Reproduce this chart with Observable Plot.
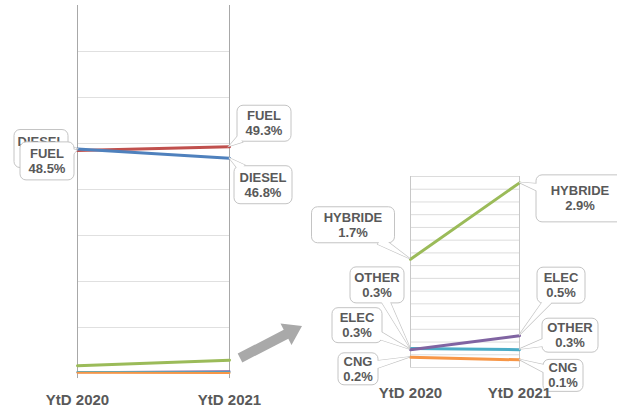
<!DOCTYPE html>
<html><head><meta charset="utf-8">
<script src="https://cdn.jsdelivr.net/npm/d3@7"></script>
<script src="https://cdn.jsdelivr.net/npm/@observablehq/plot@0.6"></script>
<style>
html,body{margin:0;padding:0;background:#fff;}
#chart{position:relative;width:617px;height:411px;overflow:hidden;}
#chart svg{position:absolute;left:0;top:0;overflow:hidden;}
</style></head><body><div id="chart"></div>
<script>
// ---- data ----
const periods = ["YtD 2020", "YtD 2021"];
const energies = ["FUEL", "DIESEL", "HYBRIDE", "ELEC", "OTHER", "CNG"];
const share2020 = [48.5, 48.8, 1.7, 0.28, 0.30, 0.16];
const share2021 = [49.3, 46.8, 2.9, 0.50, 0.28, 0.12];
const zoomEnergies = ["HYBRIDE", "ELEC", "OTHER", "CNG"];
const leftGrid = [10, 20, 30, 40, 50, 60, 70];
const rightGrid = [0, 0.2, 0.4, 0.6, 0.8, 1.0, 1.2, 1.4, 1.6, 1.8, 2.0, 2.2, 2.4, 2.6, 2.8, 3.0];

// ---- styles ----
const colors = ["#c0504d", "#4f81bd", "#9bbb59", "#8064a2", "#4bacc6", "#f79646"];
const textColor = "#595959";
const font = "'Liberation Sans', Arial, sans-serif";

const rows = energies.flatMap((e, i) => [
  {energy: e, period: periods[0], share: share2020[i]},
  {energy: e, period: periods[1], share: share2021[i]}
]);
const smallOrder = ["ELEC", "OTHER", "CNG"];
const bigOrder = ["HYBRIDE", "FUEL", "DIESEL"];
const smallRows = smallOrder.flatMap(e => rows.filter(r => r.energy === e));
const bigRows = bigOrder.flatMap(e => rows.filter(r => r.energy === e));

// callout layout: offsets of box centre from the data point, box size
const leftCallouts = [
  {energy: "DIESEL", period: periods[0], dx: -36, dy: 0, w: 54, h: 38},
  {energy: "FUEL", period: periods[0], dx: -30, dy: 11, w: 54, h: 38},
  {energy: "FUEL", period: periods[1], dx: 35, dy: -23, w: 54, h: 36},
  {energy: "DIESEL", period: periods[1], dx: 34, dy: 27, w: 58, h: 38}
];
const rightCallouts = [
  {energy: "HYBRIDE", period: periods[0], dx: -57, dy: -34, w: 83, h: 36},
  {energy: "OTHER", period: periods[0], dx: -33, dy: -63, w: 54, h: 36},
  {energy: "ELEC", period: periods[0], dx: -53, dy: -24, w: 50, h: 35},
  {energy: "CNG", period: periods[0], dx: -52, dy: 12, w: 40, h: 32},
  {energy: "HYBRIDE", period: periods[1], dx: 61, dy: 16, w: 88, h: 47},
  {energy: "ELEC", period: periods[1], dx: 42, dy: -50, w: 48, h: 36},
  {energy: "OTHER", period: periods[1], dx: 51, dy: -14, w: 56, h: 34},
  {energy: "CNG", period: periods[1], dx: 44, dy: 16, w: 40, h: 32}
];

function valueOf(energy, period) {
  const i = energies.indexOf(energy);
  return (period === periods[0] ? share2020 : share2021)[i];
}

function callouts(specs) {
  return (index, scales) => {
    const g = d3.create("svg:g");
    for (const s of specs) {
      const v = valueOf(s.energy, s.period);
      const ax = scales.x(s.period), ay = scales.y(v);
      const cx = ax + s.dx, cy = ay + s.dy;
      const ddx = ax - cx, ddy = ay - cy;
      const len = Math.hypot(ddx, ddy);
      const ux = ddx / len, uy = ddy / len;
      const t = Math.min(Math.abs(ddx) > 0 ? (s.w / 2) / Math.abs(ddx) : Infinity,
                         Math.abs(ddy) > 0 ? (s.h / 2) / Math.abs(ddy) : Infinity);
      const ex = cx + t * ddx - 4 * ux, ey = cy + t * ddy - 4 * uy;
      const px = -uy, py = ux, hw = 4;
      const tail = `M${ex + hw * px},${ey + hw * py}L${ax},${ay}L${ex - hw * px},${ey - hw * py}Z`;
      g.append("path").attr("d", tail).attr("fill", "#fff").attr("stroke", "#c4c4c4").attr("stroke-width", 1.3);
      g.append("rect").attr("x", cx - s.w / 2).attr("y", cy - s.h / 2)
        .attr("width", s.w).attr("height", s.h).attr("rx", 6)
        .attr("fill", "#fff").attr("stroke", "#c4c4c4");
      g.append("path").attr("d", tail).attr("fill", "#fff");
      const txt = g.append("text").attr("text-anchor", "middle")
        .attr("font-family", font).attr("font-weight", "bold").attr("font-size", 13)
        .attr("fill", textColor);
      txt.append("tspan").attr("x", cx).attr("y", cy - 7.5).attr("dy", "0.35em").text(s.energy);
      txt.append("tspan").attr("x", cx).attr("y", cy + 7.5).attr("dy", "0.35em").text(v.toFixed(1) + "%");
    }
    return g.node();
  };
}

const axisText = {fontFamily: font, fontWeight: "bold", fontSize: 15, fill: textColor, lineAnchor: "middle"};

const left = Plot.plot({
  width: 617, height: 411,
  marginLeft: 77, marginRight: 388, marginTop: 5, marginBottom: 38,
  x: {type: "point", domain: periods, range: [77, 229], padding: 0, axis: null},
  y: {domain: [0, 80], axis: null},
  color: {domain: energies, range: colors},
  style: {background: "transparent"},
  marks: [
    Plot.ruleY(leftGrid, {stroke: "#e0e0e0"}),
    Plot.ruleX(periods, {y1: -1.1, y2: 80, stroke: "#a8a8a8"}),
    Plot.line(smallRows, {x: "period", y: "share", z: "energy", stroke: "energy", strokeWidth: 2}),
    Plot.line(bigRows, {x: "period", y: "share", z: "energy", stroke: "energy", strokeWidth: 3}),
    callouts(leftCallouts),
    Plot.text(periods, {x: d => d, y: 0, dy: 27, text: d => d, ...axisText})
  ]
});

const zoomRows = ["CNG", "OTHER", "ELEC", "HYBRIDE"].flatMap(e => rows.filter(r => r.energy === e));
const right = Plot.plot({
  width: 617, height: 411,
  marginLeft: 410, marginRight: 98, marginTop: 176, marginBottom: 44,
  x: {type: "point", domain: periods, range: [410, 519], padding: 0, axis: null},
  y: {domain: [0, 3], axis: null},
  color: {domain: energies, range: colors},
  style: {background: "transparent"},
  marks: [
    Plot.ruleY(rightGrid, {stroke: "#dcdcdc"}),
    Plot.ruleX(periods, {y1: 0, y2: 3, stroke: "#c8c8c8"}),
    Plot.line(zoomRows, {x: "period", y: "share", z: "energy", stroke: "energy", strokeWidth: 3}),
    callouts(rightCallouts),
    Plot.text(periods, {x: d => d, y: 0, dy: 26, text: d => d, ...axisText})
  ]
});

const chart = document.getElementById("chart");
chart.append(left, right);

// decorative block arrow pointing from the overview to the zoom
const ns = "http://www.w3.org/2000/svg";
const deco = document.createElementNS(ns, "svg");
deco.setAttribute("width", 617); deco.setAttribute("height", 411);
const arrowFrom = [240, 358], arrowTo = [302, 326];
const adx = arrowTo[0] - arrowFrom[0], ady = arrowTo[1] - arrowFrom[1];
const al = Math.hypot(adx, ady), aux = adx / al, auy = ady / al, apx = -auy, apy = aux;
const bodyW = 5, headW = 12, headL = 18;
const hb = [arrowTo[0] - headL * aux, arrowTo[1] - headL * auy];
const pts = [
  [arrowFrom[0] + bodyW * apx, arrowFrom[1] + bodyW * apy],
  [hb[0] + bodyW * apx, hb[1] + bodyW * apy],
  [hb[0] + headW * apx, hb[1] + headW * apy],
  arrowTo,
  [hb[0] - headW * apx, hb[1] - headW * apy],
  [hb[0] - bodyW * apx, hb[1] - bodyW * apy],
  [arrowFrom[0] - bodyW * apx, arrowFrom[1] - bodyW * apy]
];
const poly = document.createElementNS(ns, "polygon");
poly.setAttribute("points", pts.map(p => p.join(",")).join(" "));
poly.setAttribute("fill", "#a9a9a9");
deco.appendChild(poly);
chart.appendChild(deco);
</script></body></html>
